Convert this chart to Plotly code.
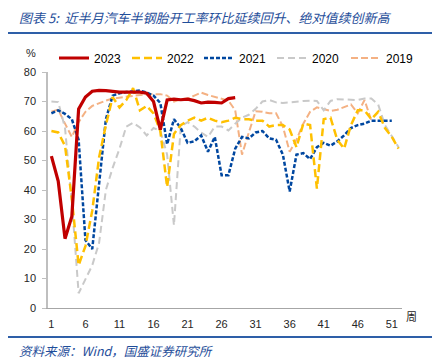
import plotly.graph_objects as go

weeks_axis = [1, 6, 11, 16, 21, 26, 31, 36, 41, 46, 51]

y2023 = [51.5, 43, 23.5, 31, 67.5, 71.5, 73.5, 73.8, 73.7, 73.4, 73.2, 73.2, 73.3, 73.2,
         72.8, 70, 60.5, 70.5, 70.8, 70.6, 70.8, 70.3, 69.5, 69.8, 69.7, 69.5, 71, 71.3]
y2022 = [60, 59.5, 55, 37, 14.5, 21, 33, 51, 62, 71.5, 68, 70.5, 74.5, 67, 68.5, 66, 60, 41,
         59, 62, 63.5, 64.5, 63.5, 64.5, 63.5, 63, 63.5, 64.5, 64, 64, 63.5, 63.5, 61.5, 62,
         62, 60.5, 54.5, 62.5, 62, 40.5, 64, 64.5, 57, 54, 62, 67, 67, 64, 66.5, 61, 58, 54]
y2021 = [66, 67, 65.8, 64, 57, 23, 20, 42, 64, 72, 72.8, 73.2, 73.5, 73.7, 73, 72, 69.5, 55.5,
         64, 61, 56, 56.5, 58.5, 53, 58, 45, 45, 54, 58, 57.5, 59.5, 60, 57.5, 57, 52, 39.5,
         52, 52.5, 50.5, 54.5, 56, 55, 56.5, 58.5, 61, 62, 62.5, 63.5, 63.5, 63.5, 63.5]
y2020 = [70, 69.8, 61, 36, 5, 10, 14.5, 22, 40, 47.5, 54, 61.5, 62.8, 61.2, 58.5, 61, 60, 52,
         28, 61.5, 63, 61.5, 59.5, 58, 61.5, 61.5, 60.2, 62.5, 64.5, 65.5, 67.5, 70, 70.5, 69.7,
         69.5, 69.7, 70, 70.2, 70.3, 70.2, 67, 70.2, 70.8, 70.8, 70.6, 70.5, 71, 71, 69, 62, 58, 54.5]
y2019 = [66.5, 67.2, 62.5, 58, 63, 66.5, 68.5, 69.5, 70.3, 71, 71.3, 71.8, 72, 72.2, 72.4, 72.5,
         72.5, 72, 70, 70.8, 71, 72, 73, 72.2, 71.6, 71, 70.3, 67, 52, 59.5, 66.7, 66.5, 66, 66,
         61.5, 53, 57, 62.5, 66.5, 68, 67.5, 66.8, 67.2, 68, 69, 66, 70.5, 63.5]

# (name, values, color, width, dash, legend id, legend line start in screen px)
series = [
    ("2019", y2019, "#F4B183", 2, "7px,3px", "legend5", 352),
    ("2020", y2020, "#C9C9C9", 2, "7px,4px", "legend4", 278),
    ("2021", y2021, "#0047A0", 2.5, "4px,2px", "legend3", 205),
    ("2022", y2022, "#FFC000", 2.5, "8px,4px", "legend2", 133),
    ("2023", y2023, "#C00000", 3.2, "solid", "legend", 60),
]

OFF = 8  # page body margin
W, H = 444 - OFF, 360 - OFF
L, R, T, B = 48 - OFF, 444 - 402, 72 - OFF, 360 - 300 - OFF
pw, ph = W - L - R, H - T - B


def px_x(p):
    return (p - OFF - L) / pw


def px_y(p):
    return (H - B - (p - OFF)) / ph


fig = go.Figure()
for name, ys, color, w, dash, lg, _ in series:
    fig.add_trace(go.Scatter(
        x=list(range(1, len(ys) + 1)), y=ys, name=name, mode="lines", legend=lg,
        line=dict(color=color, width=w, dash=dash)))

legend_common = dict(orientation="h", xanchor="left", yanchor="middle",
                     font=dict(size=12, color="#000000"), bgcolor="rgba(0,0,0,0)",
                     itemwidth=30)
legends = {}
for name, ys, color, w, dash, lg, start in series:
    legends[lg] = dict(legend_common, x=px_x(start - 6), y=px_y(58))

fig.update_layout(
    width=W, height=H,
    margin=dict(l=L, r=R, t=T, b=B, autoexpand=False),
    paper_bgcolor="white", plot_bgcolor="white",
    font=dict(family="Liberation Sans, Arial, sans-serif", size=11, color="#262626"),
    showlegend=True,
    xaxis=dict(range=[0.5, 52.5], tickmode="array", tickvals=weeks_axis,
               ticktext=[str(v) for v in weeks_axis], showgrid=False, zeroline=False,
               showline=True, linecolor="#A6A6A6", linewidth=1, ticks="",
               ticklabelstandoff=6, fixedrange=True),
    yaxis=dict(range=[0, 80], tickmode="array", tickvals=list(range(0, 81, 10)),
               showgrid=False, zeroline=False, showline=True, linecolor="#BFBFBF",
               linewidth=1.5, ticks="outside", ticklen=4, tickcolor="#BFBFBF",
               ticklabelstandoff=4, fixedrange=True),
    **legends,
)

title_color = "#1F4E9A"
fig.add_annotation(text="图表 5:  近半月汽车半钢胎开工率环比延续回升、绝对值续创新高",
                   xref="paper", yref="paper", x=px_x(17), y=px_y(18), xanchor="left",
                   yanchor="middle", showarrow=False,
                   font=dict(family="Noto Sans CJK SC", size=13, color=title_color, style="italic"))
fig.add_annotation(text="资料来源：Wind，国盛证券研究所",
                   xref="paper", yref="paper", x=px_x(17), y=px_y(350), xanchor="left",
                   yanchor="middle", showarrow=False,
                   font=dict(family="Noto Sans CJK SC", size=12.5, color=title_color, style="italic"))
fig.add_annotation(text="%", xref="paper", yref="paper", x=px_x(31), y=px_y(53),
                   xanchor="center", yanchor="middle", showarrow=False,
                   font=dict(size=11, color="#262626"))
fig.add_annotation(text="周", xref="paper", yref="paper", x=px_x(411), y=px_y(316),
                   xanchor="center", yanchor="middle", showarrow=False,
                   font=dict(family="Noto Sans CJK SC", size=11, color="#262626"))

for py in (33, 337):
    fig.add_shape(type="line", xref="paper", yref="paper", x0=px_x(8), x1=px_x(432),
                  y0=px_y(py), y1=px_y(py), line=dict(color="#2E5FA8", width=2))

fig.write_html("out.html")
